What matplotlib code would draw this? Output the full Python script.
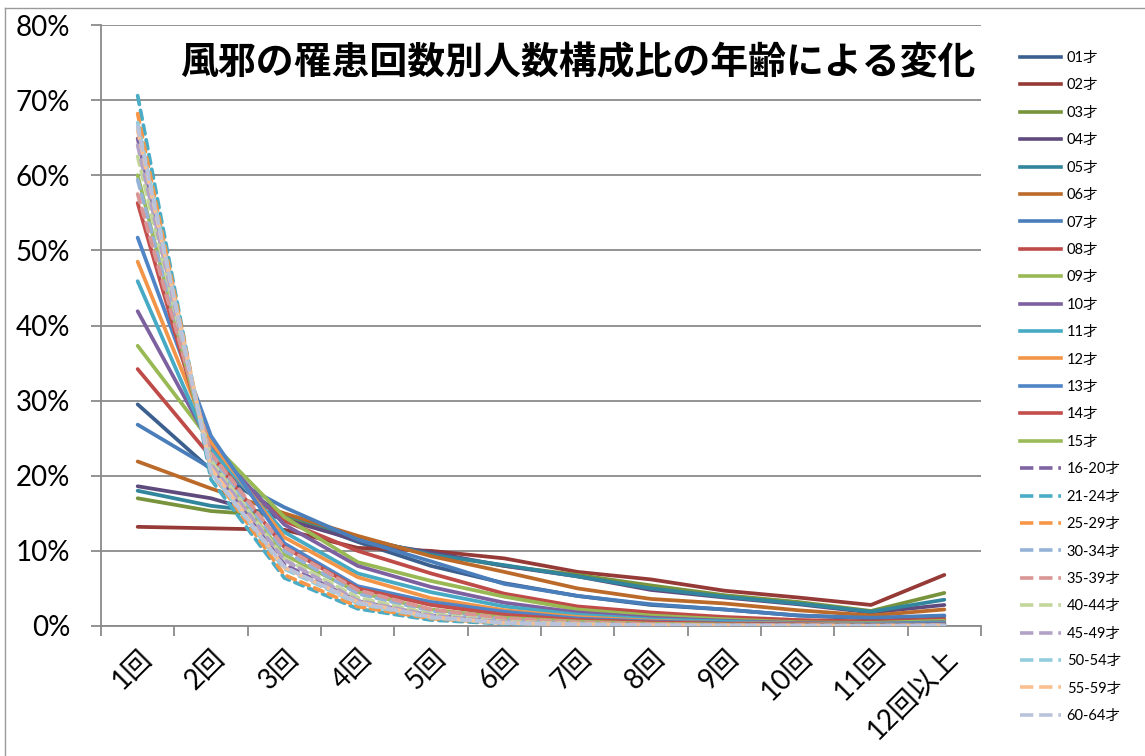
import matplotlib
matplotlib.use("Agg")
import matplotlib.pyplot as plt
import matplotlib.transforms as mtransforms
from matplotlib.ticker import FixedLocator, PercentFormatter
from matplotlib.lines import Line2D

plt.rcParams['font.family'] = ['Lato', 'Noto Sans CJK JP', 'DejaVu Sans']

# Number of colds caught (categories)
categories = ['1回', '2回', '3回', '4回', '5回', '6回', '7回', '8回', '9回', '10回', '11回', '12回以上']

# Age groups
ages = ['01才', '02才', '03才', '04才', '05才', '06才', '07才', '08才', '09才', '10才',
        '11才', '12才', '13才', '14才', '15才', '16-20才', '21-24才', '25-29才',
        '30-34才', '35-39才', '40-44才', '45-49才', '50-54才', '55-59才', '60-64才']

# Share of people (%) for each count of colds, per age group
s01 = [29.5, 20.8, 14.8, 11.2, 8.0, 5.7, 4.0, 2.8, 2.2, 1.4, 1.0, 1.3]
s02 = [13.2, 13.0, 12.8, 10.4, 10.0, 9.0, 7.2, 6.2, 4.7, 3.8, 2.8, 6.8]
s03 = [17.0, 15.3, 14.6, 11.6, 9.6, 8.0, 6.8, 5.4, 4.1, 3.2, 2.0, 4.4]
s04 = [18.6, 17.0, 14.2, 11.4, 9.8, 8.0, 6.6, 4.8, 3.8, 2.9, 1.8, 2.8]
s05 = [18.0, 16.0, 14.9, 11.8, 9.5, 8.1, 6.6, 5.0, 3.9, 3.0, 1.9, 3.5]
s06 = [21.9, 18.3, 15.0, 12.0, 9.3, 7.2, 5.0, 3.6, 3.0, 2.1, 1.4, 2.2]
s07 = [26.8, 21.0, 15.8, 11.5, 8.6, 5.6, 4.0, 2.9, 2.2, 1.4, 1.1, 1.4]
s08 = [34.2, 22.5, 14.0, 10.0, 7.0, 4.3, 2.6, 1.8, 1.2, 0.8, 0.6, 0.9]
s09 = [37.3, 24.5, 14.5, 8.5, 6.0, 3.9, 2.2, 1.4, 0.9, 0.5, 0.4, 0.7]
s10 = [41.9, 24.0, 13.5, 8.0, 5.2, 3.1, 1.8, 1.1, 0.7, 0.4, 0.3, 0.5]
s11 = [45.9, 23.5, 12.5, 7.0, 4.5, 2.6, 1.5, 0.9, 0.6, 0.3, 0.3, 0.4]
s12 = [48.5, 24.5, 11.8, 6.5, 3.7, 2.1, 1.2, 0.7, 0.4, 0.3, 0.2, 0.3]
s13 = [51.7, 25.3, 11.0, 5.3, 3.2, 1.9, 1.0, 0.6, 0.4, 0.2, 0.2, 0.3]
s14 = [56.3, 22.5, 10.5, 5.0, 2.8, 1.5, 0.8, 0.5, 0.3, 0.2, 0.1, 0.2]
s15 = [60.0, 21.5, 9.5, 4.5, 2.2, 1.1, 0.6, 0.3, 0.2, 0.1, 0.05, 0.1]
s16_20 = [64.9, 21.0, 8.2, 3.3, 1.4, 0.6, 0.3, 0.15, 0.1, 0.05, 0.03, 0.1]
s21_24 = [70.6, 19.5, 6.4, 2.3, 0.8, 0.3, 0.1, 0.05, 0.03, 0.02, 0.01, 0.05]
s25_29 = [68.2, 20.5, 6.8, 2.6, 1.0, 0.4, 0.2, 0.1, 0.05, 0.03, 0.02, 0.05]
s30_34 = [59.4, 22.5, 10.0, 4.3, 2.0, 0.9, 0.4, 0.2, 0.1, 0.1, 0.05, 0.1]
s35_39 = [57.5, 23.0, 10.5, 4.8, 2.2, 1.0, 0.5, 0.25, 0.1, 0.1, 0.05, 0.1]
s40_44 = [62.5, 22.0, 9.0, 3.8, 1.6, 0.6, 0.3, 0.1, 0.05, 0.03, 0.02, 0.05]
s45_49 = [64.0, 21.5, 8.8, 3.4, 1.4, 0.5, 0.2, 0.1, 0.05, 0.03, 0.02, 0.05]
s50_54 = [67.0, 20.5, 7.6, 3.0, 1.1, 0.4, 0.2, 0.1, 0.05, 0.03, 0.02, 0.05]
s55_59 = [66.0, 21.0, 7.8, 3.2, 1.2, 0.4, 0.2, 0.1, 0.05, 0.03, 0.02, 0.05]
s60_64 = [66.5, 20.5, 7.9, 3.1, 1.2, 0.4, 0.2, 0.1, 0.05, 0.03, 0.02, 0.05]

series = [s01, s02, s03, s04, s05, s06, s07, s08, s09, s10, s11, s12, s13, s14, s15,
          s16_20, s21_24, s25_29, s30_34, s35_39, s40_44, s45_49, s50_54, s55_59, s60_64]

colors = ['#3B5F8E', '#953A37', '#77933C', '#5F4A7E', '#31859C', '#BB6A2A',
          '#4A7EBB', '#BE4B48', '#98B954', '#7D60A0', '#46AAC5', '#F39548',
          '#4F85C6', '#C44E4B', '#9BBB59',
          '#8064A2', '#4BACC6', '#F79646', '#95B3D7', '#D99694', '#C3D69B',
          '#B3A2C7', '#93CDDD', '#FAC090', '#B9C3DC']
n_solid = 15

W, H = 1145, 756
fig = plt.figure(figsize=(W / 100, H / 100), dpi=100, facecolor='white')
ax = fig.add_axes([101 / W, 1 - 626 / H, 880 / W, 601 / H])

x = list(range(len(categories)))
handles = []
for i, (name, vals, c) in enumerate(zip(ages, series, colors)):
    if i < n_solid:
        ln, = ax.plot(x, vals, color=c, lw=2.7, solid_capstyle='round',
                      solid_joinstyle='round', label=name, zorder=3)
    else:
        ln, = ax.plot(x, vals, color=c, lw=2.7, linestyle=(0, (2.4, 1.6)),
                      dash_capstyle='round', label=name, zorder=3)
    handles.append(ln)

ax.set_xlim(-0.5, len(categories) - 0.5)
ax.set_ylim(0, 80)

# y axis: percent labels, gridlines every 10%
ax.yaxis.set_major_locator(FixedLocator(range(0, 81, 10)))
ax.yaxis.set_major_formatter(PercentFormatter(decimals=0))
ax.grid(axis='y', color='#8A8A8A', lw=1.3, zorder=1)
ax.tick_params(axis='y', which='major', direction='out', length=7, width=1.3,
               color='#8A8A8A', labelsize=20, pad=15)

# x axis: boundary ticks, rotated category labels
ax.set_xticks(x)
ax.set_xticklabels(categories)
ax.set_xticks([i - 0.5 for i in range(len(categories) + 1)], minor=True)
ax.tick_params(axis='x', which='major', length=0, pad=20, labelsize=20)
ax.tick_params(axis='x', which='minor', direction='out', length=7, width=1.3,
               color='#8A8A8A')
offset = mtransforms.ScaledTranslation(10 / 100, 0, fig.dpi_scale_trans)
for lab in ax.get_xticklabels():
    lab.set_rotation(45)
    lab.set_rotation_mode('anchor')
    lab.set_ha('right')
    lab.set_va('center')
    lab.set_transform(lab.get_transform() + offset)

for side in ['top', 'right']:
    ax.spines[side].set_visible(False)
for side in ['left', 'bottom']:
    ax.spines[side].set_color('#8A8A8A')
    ax.spines[side].set_linewidth(1.3)

# Title inside the plot area
fig.text(578 / W, 1 - 63 / H, '風邪の罹患回数別人数構成比の年齢による変化',
         ha='center', va='center', fontsize=27.3, fontweight='bold',
         family=['Noto Sans CJK JP'], color='black')

# Legend at the right
leg_handles = [Line2D([0], [0], color=h.get_color(), lw=2.6, linestyle=h.get_linestyle())
               for h in handles]
fig.legend(leg_handles, ages, loc='upper left', bbox_to_anchor=(1020 / W, 1 - 51 / H),
           frameon=False, fontsize=10.5, handlelength=2.8, handletextpad=0.4,
           labelspacing=0.92, borderaxespad=0, borderpad=0)

# Chart border
fig.add_artist(Line2D([5 / W, 5 / W], [0, 1 - 8 / H], transform=fig.transFigure,
                      color='#9A9A9A', lw=1.0))
fig.add_artist(Line2D([5 / W, 1], [1 - 8 / H, 1 - 8 / H], transform=fig.transFigure,
                      color='#9A9A9A', lw=1.0))

fig.savefig('out.png', dpi=100, facecolor='white')
